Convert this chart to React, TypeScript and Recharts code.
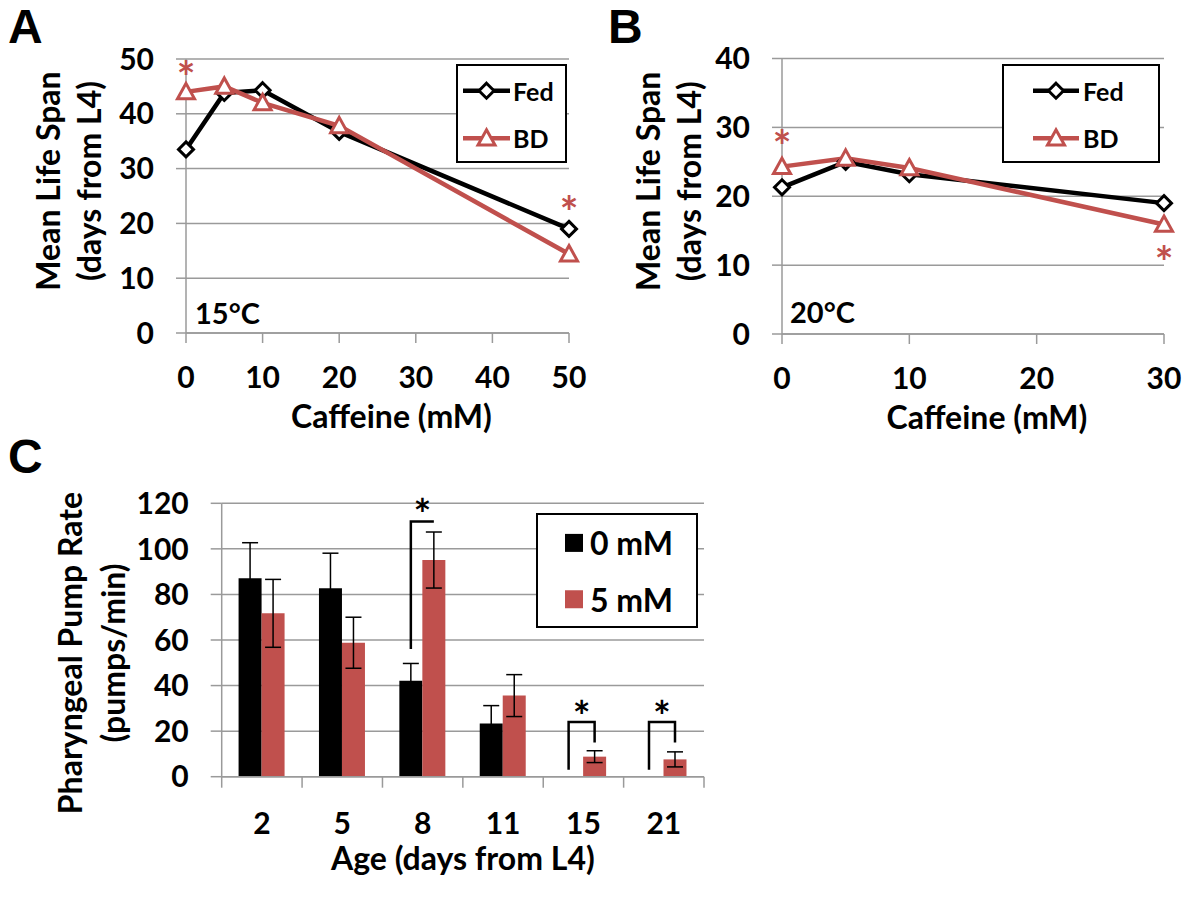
import React from "react";
import {
  LineChart,
  Line,
  BarChart,
  Bar,
  XAxis,
  YAxis,
  CartesianGrid,
  Legend,
  ErrorBar,
  LabelList,
} from "recharts";

const FONT = "Lato, 'Open Sans', sans-serif";
const RED = "#C0504D";
const GRID = "#9a9a9a";

// panel A - 15°C
const caffeineA = [0, 5, 10, 20, 50];
const fedA = [33.5, 43.8, 44.3, 36.7, 19.0];
const bdA = [44.0, 45.0, 42.0, 37.8, 14.4];
const fedStarA = [null, null, null, null, "above"];
const bdStarA = ["above", null, null, null, null];
const xTicksA = [0, 10, 20, 30, 40, 50];
const yTicksA = [0, 10, 20, 30, 40, 50];

// panel B - 20°C
const caffeineB = [0, 5, 10, 30];
const fedB = [21.3, 25.0, 23.2, 19.0];
const bdB = [24.3, 25.5, 24.1, 15.9];
const fedStarB = [null, null, null, null];
const bdStarB = ["above", null, null, "below"];
const xTicksB = [0, 10, 20, 30];
const yTicksB = [0, 10, 20, 30, 40];

const lineSeries = ["Fed", "BD"];

// panel C - pumping
const ages = ["2", "5", "8", "11", "15", "21"];
const pump0 = [87.1, 82.7, 42.1, 23.4, null, null];
const err0 = [15.6, 15.4, 7.6, 7.8, null, null];
const pump5 = [71.7, 58.8, 95.1, 35.6, 8.8, 7.6];
const err5 = [14.9, 11.2, 12.3, 9.2, 2.6, 3.3];
// bracket: [left foot, top, right foot, star level] in pumps/min
const bracketC = [null, null, [56, 112, null, 118.5], null, [3, 24, 15, 30], [3, 24, 15, 30]];
const yTicksC = [0, 20, 40, 60, 80, 100, 120];
const barSeries = ["0 mM", "5 mM"];

const rowsA = caffeineA.map((c, i) => ({ c, fed: fedA[i], bd: bdA[i], fedStar: fedStarA[i], bdStar: bdStarA[i] }));
const rowsB = caffeineB.map((c, i) => ({ c, fed: fedB[i], bd: bdB[i], fedStar: fedStarB[i], bdStar: bdStarB[i] }));
const rowsC = ages.map((age, i) => ({ age, p0: pump0[i], e0: err0[i], p5: pump5[i], e5: err5[i], sig: bracketC[i] }));

const tickStyle = { fill: "#000", fontSize: 30, fontWeight: 700, fontFamily: FONT };
const TITLE = 32;
const STAR = 44;

function diamond(cx: number, cy: number, s: number) {
  return `M${cx},${cy - s}L${cx + s},${cy}L${cx},${cy + s}L${cx - s},${cy}Z`;
}
function triangle(cx: number, cy: number, s: number) {
  return `M${cx},${cy - s}L${cx + s},${cy + s * 0.8}L${cx - s},${cy + s * 0.8}Z`;
}

const renderDiamond = (p: any) => {
  if (p.cx == null || p.cy == null) return <g key={`d${p.index}`} />;
  return <path key={`d${p.index}`} d={diamond(p.cx, p.cy, 7.5)} fill="#fff" stroke="#000" strokeWidth={3} />;
};
const renderTriangle = (p: any) => {
  if (p.cx == null || p.cy == null) return <g key={`t${p.index}`} />;
  return <path key={`t${p.index}`} d={triangle(p.cx, p.cy, 8.5)} fill="#fff" stroke={RED} strokeWidth={3} />;
};

function Star({ x, cy, color, size = STAR }: any) {
  return (
    <text x={x} y={cy + size * 0.56} textAnchor="middle" fill={color} fontSize={size} fontWeight={700} fontFamily={FONT}>
      *
    </text>
  );
}

const starLabel = (gap: number) => (props: any) => {
  const vb = props.viewBox ?? props;
  if (props.value !== "above" && props.value !== "below") return null;
  const cy = props.value === "above" ? vb.y - gap : vb.y + gap;
  return <Star x={vb.x} cy={cy} color={RED} />;
};

function YTitle({ viewBox, lines, xs, shift = 0 }: any) {
  const cy = viewBox.y + viewBox.height / 2 + shift;
  return (
    <g>
      {lines.map((t: string, i: number) => (
        <text
          key={t}
          x={xs[i]}
          y={cy}
          transform={`rotate(-90, ${xs[i]}, ${cy})`}
          textAnchor="middle"
          dominantBaseline="central"
          fontSize={TITLE}
          fontWeight={700}
          fontFamily={FONT}
          fill="#000"
        >
          {t}
        </text>
      ))}
    </g>
  );
}

function byOrder(payload: any[], order: string[]) {
  return order.map((name) => (payload || []).find((e: any) => e.value === name)).filter(Boolean);
}

function LineLegend({ payload, width, height, x0, x1, tx }: any) {
  const rows = [height * 0.27, height * 0.75];
  return (
    <svg width={width} height={height} style={{ display: "block" }}>
      <rect x={1} y={1} width={width - 2} height={height - 2} fill="#fff" stroke="#000" strokeWidth={2} />
      {byOrder(payload, lineSeries).map((e: any, i: number) => (
        <g key={e.value}>
          <line x1={x0} x2={x1} y1={rows[i]} y2={rows[i]} stroke={e.color} strokeWidth={4.5} />
          {e.value === "Fed" ? (
            <path d={diamond((x0 + x1) / 2, rows[i], 7.5)} fill="#fff" stroke={e.color} strokeWidth={3} />
          ) : (
            <path d={triangle((x0 + x1) / 2, rows[i], 8.5)} fill="#fff" stroke={e.color} strokeWidth={3} />
          )}
          <text x={tx} y={rows[i]} dominantBaseline="central" fontSize={25} fontWeight={700} fontFamily={FONT} fill="#000">
            {e.value}
          </text>
        </g>
      ))}
    </svg>
  );
}

function BarLegend({ payload, width, height }: any) {
  const rows = [height * 0.26, height * 0.75];
  return (
    <svg width={width} height={height} style={{ display: "block" }}>
      <rect x={1} y={1} width={width - 2} height={height - 2} fill="#fff" stroke="#000" strokeWidth={2} />
      {byOrder(payload, barSeries).map((e: any, i: number) => (
        <g key={e.value}>
          <rect x={29} y={rows[i] - 9} width={18} height={18} fill={e.color} />
          <text x={54} y={rows[i]} dominantBaseline="central" fontSize={32} fontWeight={700} fontFamily={FONT} fill="#000">
            {e.value}
          </text>
        </g>
      ))}
    </svg>
  );
}

function LifeSpanPanel({ rows, xTicks, yTicks, yMax, margin, legendBox, bdStarGap }: any) {
  return (
    <LineChart width={600} height={450} data={rows} margin={margin}>
      <CartesianGrid vertical={false} stroke={GRID} strokeWidth={1.5} />
      <XAxis
        dataKey="c"
        type="number"
        domain={[0, xTicks[xTicks.length - 1]]}
        ticks={xTicks}
        interval={0}
        height={100}
        stroke={GRID}
        strokeWidth={1.5}
        tickSize={10}
        tickMargin={24}
        tick={tickStyle}
        label={{
          value: "Caffeine (mM)",
          position: "insideBottom",
          offset: 5,
          dx: 14,
          fill: "#000",
          fontSize: TITLE,
          fontWeight: 700,
          fontFamily: FONT,
        }}
      />
      <YAxis
        type="number"
        domain={[0, yMax]}
        ticks={yTicks}
        interval={0}
        width={80}
        stroke={GRID}
        strokeWidth={1.5}
        tickSize={10}
        tickMargin={22}
        tick={tickStyle}
        label={(p: any) => <YTitle viewBox={p.viewBox} lines={["Mean Life Span", "(days from L4)"]} xs={[47, 88]} shift={-15} />}
      />
      <Legend
        layout="horizontal"
        verticalAlign="middle"
        align="center"
        wrapperStyle={{ left: legendBox.left, top: legendBox.top, width: legendBox.width, height: legendBox.height }}
        content={(p: any) => (
          <LineLegend payload={p.payload} width={legendBox.width} height={legendBox.height} x0={legendBox.x0} x1={legendBox.x1} tx={legendBox.tx} />
        )}
      />
      <Line name="Fed" type="linear" dataKey="fed" stroke="#000" strokeWidth={4.5} dot={renderDiamond} activeDot={false} isAnimationActive={false}>
        <LabelList dataKey="fedStar" content={starLabel(26)} />
      </Line>
      <Line name="BD" type="linear" dataKey="bd" stroke={RED} strokeWidth={4.5} dot={renderTriangle} activeDot={false} isAnimationActive={false}>
        <LabelList dataKey="bdStar" content={starLabel(bdStarGap)} />
      </Line>
    </LineChart>
  );
}

// panel C layout
const C_W = 720;
const C_H = 464;
const C_MARGIN = { top: 63.3, right: 16, bottom: 17.3, left: 121.7 };
const C_YAXIS_W = 100;
const C_TICK_MARGIN = 36;
const C_BAND = (C_W - C_MARGIN.left - C_YAXIS_W - C_MARGIN.right) / ages.length;

function AgeTick(props: any) {
  const { x, y, payload, index } = props;
  const axisY = y - C_TICK_MARGIN;
  const left = x - C_BAND / 2;
  const right = x + C_BAND / 2;
  return (
    <g>
      <line x1={left} x2={left} y1={axisY} y2={axisY + 11} stroke={GRID} strokeWidth={1.5} />
      {index === ages.length - 1 && <line x1={right} x2={right} y1={axisY} y2={axisY + 11} stroke={GRID} strokeWidth={1.5} />}
      <text x={x} y={y} dy="0.71em" textAnchor="middle" {...tickStyle}>
        {payload.value}
      </text>
    </g>
  );
}

const renderBracket = (props: any) => {
  const vb = props.viewBox ?? props;
  const sig = props.value;
  const i = props.index;
  if (!sig || !vb || i == null) return null;
  const k = vb.height / (pump5[i] as number);
  const base = vb.y + vb.height;
  const toY = (v: number) => base - v * k;
  const xr = vb.x + vb.width / 2;
  const xl = vb.x - vb.width / 2 - (rightFootOf(sig) != null ? 3 : 0);
  const [foot, top, rightFoot, starLevel] = sig;
  let d = `M${xl},${toY(foot)}V${toY(top)}H${xr}`;
  if (rightFoot != null) d += `V${toY(rightFoot)}`;
  return (
    <g>
      <path d={d} fill="none" stroke="#000" strokeWidth={2.5} />
      <Star x={(xl + xr) / 2} cy={toY(starLevel)} color="#000" size={42} />
    </g>
  );
};
function rightFootOf(sig: any) {
  return sig[2];
}

function Letter({ children, left, top }: any) {
  return (
    <div
      style={{
        position: "absolute",
        left,
        top,
        fontFamily: "'Liberation Sans', Arial, sans-serif",
        fontWeight: 700,
        fontSize: 48,
        lineHeight: "54px",
      }}
    >
      {children}
    </div>
  );
}

function Temp({ children, left, top }: any) {
  return (
    <div style={{ position: "absolute", left, top, fontFamily: FONT, fontWeight: 700, fontSize: 29, lineHeight: "29px" }}>
      {children}
    </div>
  );
}

export default function App() {
  return (
    <div style={{ position: "absolute", left: 0, top: 0, width: 1200, height: 904, background: "#fff", overflow: "hidden" }}>
      <div style={{ position: "absolute", left: 0, top: 0 }}>
        <LifeSpanPanel
          rows={rowsA}
          xTicks={xTicksA}
          yTicks={yTicksA}
          yMax={50}
          margin={{ top: 59, right: 31, bottom: 17, left: 106 }}
          legendBox={{ left: 456, top: 64, width: 111, height: 99, x0: 7, x1: 54, tx: 57 }}
          bdStarGap={24}
        />
      </div>
      <div style={{ position: "absolute", left: 600, top: 0 }}>
        <LifeSpanPanel
          rows={rowsB}
          xTicks={xTicksB}
          yTicks={yTicksB}
          yMax={40}
          margin={{ top: 58.5, right: 36, bottom: 16, left: 102 }}
          legendBox={{ left: 402, top: 64, width: 158, height: 99, x0: 31, x1: 77, tx: 81 }}
          bdStarGap={29}
        />
      </div>
      <div style={{ position: "absolute", left: 0, top: 440 }}>
        <BarChart width={C_W} height={C_H} data={rowsC} margin={C_MARGIN} barGap={0} barCategoryGap="21%">
          <CartesianGrid vertical={false} stroke={GRID} strokeWidth={1.5} />
          <XAxis
            dataKey="age"
            interval={0}
            height={110}
            stroke={GRID}
            strokeWidth={1.5}
            tickLine={false}
            tickSize={0}
            tickMargin={C_TICK_MARGIN}
            tick={(p: any) => <AgeTick {...p} />}
            label={{
              value: "Age (days from L4)",
              position: "insideBottom",
              offset: 17,
              fill: "#000",
              fontSize: TITLE,
              fontWeight: 700,
              fontFamily: FONT,
            }}
          />
          <YAxis
            type="number"
            domain={[0, 120]}
            ticks={yTicksC}
            interval={0}
            width={C_YAXIS_W}
            stroke={GRID}
            strokeWidth={1.5}
            tickSize={11}
            tickMargin={22}
            tick={tickStyle}
            label={(p: any) => <YTitle viewBox={p.viewBox} lines={["Pharyngeal Pump Rate", "(pumps/min)"]} xs={[69, 112]} shift={13} />}
          />
          <Legend
            layout="horizontal"
            verticalAlign="middle"
            align="center"
            wrapperStyle={{ left: 536, top: 73, width: 162, height: 115 }}
            content={(p: any) => <BarLegend payload={p.payload} width={162} height={115} />}
          />
          <Bar name="0 mM" dataKey="p0" fill="#000" isAnimationActive={false}>
            <ErrorBar dataKey="e0" width={8} stroke="#000" strokeWidth={1.5} />
          </Bar>
          <Bar name="5 mM" dataKey="p5" fill={RED} isAnimationActive={false}>
            <ErrorBar dataKey="e5" width={8} stroke="#000" strokeWidth={1.5} />
            <LabelList dataKey="sig" content={renderBracket} />
          </Bar>
        </BarChart>
      </div>
      <Letter left={8} top={0}>A</Letter>
      <Letter left={608} top={0}>B</Letter>
      <Letter left={8} top={430}>C</Letter>
      <Temp left={195} top={298}>15°C</Temp>
      <Temp left={790} top={297}>20°C</Temp>
    </div>
  );
}
